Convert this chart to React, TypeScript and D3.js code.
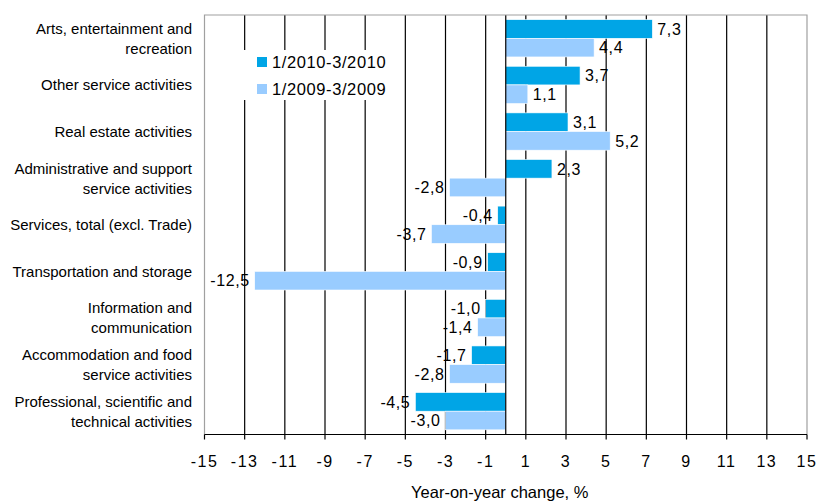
import React from 'react';
import * as d3 from 'd3';

const categories = [
  'Arts, entertainment and|recreation',
  'Other service activities',
  'Real estate activities',
  'Administrative and support|service activities',
  'Services, total (excl. Trade)',
  'Transportation and storage',
  'Information and|communication',
  'Accommodation and food|service activities',
  'Professional, scientific and|technical activities',
];
const series2010 = [7.3, 3.7, 3.1, 2.3, -0.4, -0.9, -1.0, -1.7, -4.5];
const series2009 = [4.4, 1.1, 5.2, -2.8, -3.7, -12.5, -1.4, -2.8, -3.0];
const seriesNames = ['1/2010-3/2010', '1/2009-3/2009'];
const seriesColors = ['#00a5e6', '#99ccff'];
const ticks = [-15, -13, -11, -9, -7, -5, -3, -1, 1, 3, 5, 7, 9, 11, 13, 15];

const W = 816;
const H = 502;
const left = 204.5;
const right = 807;
const top = 15;
const bottom = 434.5;
const font = '"Liberation Sans", Arial, sans-serif';

export default function App() {
  const x = d3.scaleLinear().domain([-15, 15]).range([left, right]);
  const y = d3.scaleBand<string>()
    .domain(categories)
    .range([top, bottom])
    .paddingInner(0.2)
    .paddingOuter(0.1);
  const inner = d3.scaleBand<number>().domain([0, 1]).range([0, y.bandwidth()]);
  const fmt = (v: number) => v.toFixed(1).replace('.', ',');
  const allSeries = [series2010, series2009];

  return (
    <div style={{ position: 'absolute', left: 0, top: 0 }}>
      <svg width={W} height={H} style={{ display: 'block', fontFamily: font }}>
        <rect width={W} height={H} fill="#fff" />

        {/* grid */}
        {ticks.filter(t => t > -15 && t < 15).map(t => (
          <line key={t} x1={x(t)} x2={x(t)} y1={top} y2={bottom} stroke="#000" strokeWidth={1.2} />
        ))}

        {/* legend box hides the grid */}
        <rect x={left + 1} y={50} width={190} height={50} fill="#fff" />
        {seriesNames.map((n, i) => (
          <g key={n} transform={`translate(257,${57 + i * 27})`}>
            <rect width={10} height={10} fill={seriesColors[i]} />
            <text x={15} y={5} dy="0.36em" fontSize={16.5} letterSpacing={0.6} fill="#000">{n}</text>
          </g>
        ))}

        {/* bars */}
        {categories.map((c, ci) => (
          <g key={c} transform={`translate(0,${y(c)})`}>
            {allSeries.map((s, si) => {
              const v = s[ci];
              const x0 = Math.min(x(0), x(v));
              const w = Math.abs(x(v) - x(0));
              const by = inner(si) as number;
              const bh = inner.bandwidth();
              return (
                <g key={si}>
                  <rect x={x0} y={by} width={w} height={bh} fill={seriesColors[si]} stroke="#fff" strokeWidth={0.6} />
                  <text
                    x={v >= 0 ? x(v) + 5 : x(v) - 5}
                    y={by + bh / 2}
                    dy="0.36em"
                    textAnchor={v >= 0 ? 'start' : 'end'}
                    fontSize={16}
                    letterSpacing={0.6}
                    fill="#000"
                  >
                    {fmt(v)}
                  </text>
                </g>
              );
            })}
          </g>
        ))}

        {/* zero line */}
        <line x1={x(0)} x2={x(0)} y1={top} y2={bottom} stroke="#000" strokeWidth={1.2} />

        {/* frame */}
        <path d={`M${left},${bottom}V${top}H${right}V${bottom}`} fill="none" stroke="#a0a0a0" strokeWidth={1.2} />

        {/* x axis */}
        <line x1={left} x2={right} y1={bottom} y2={bottom} stroke="#000" strokeWidth={1.2} />
        {ticks.map(t => (
          <g key={t} transform={`translate(${x(t)},0)`}>
            <line y1={bottom} y2={bottom + 5} stroke="#000" strokeWidth={1.2} />
            <text y={461} dy="0.36em" textAnchor="middle" fontSize={16} letterSpacing={1.5} fill="#000">{t}</text>
          </g>
        ))}
        <text x={(left + right) / 2 - 6} y={492} dy="0.36em" textAnchor="middle" fontSize={16.5} fill="#000">
          Year-on-year change, %
        </text>

        {/* category labels */}
        {categories.map(c => {
          const lines = c.split('|');
          const cy = (y(c) as number) + y.bandwidth() / 2;
          return (
            <text key={c} textAnchor="end" fontSize={15} fill="#000">
              {lines.map((l, i) => (
                <tspan key={i} x={192} y={cy + (i - (lines.length - 1) / 2) * 20} dy="0.36em">{l}</tspan>
              ))}
            </text>
          );
        })}
      </svg>
    </div>
  );
}
